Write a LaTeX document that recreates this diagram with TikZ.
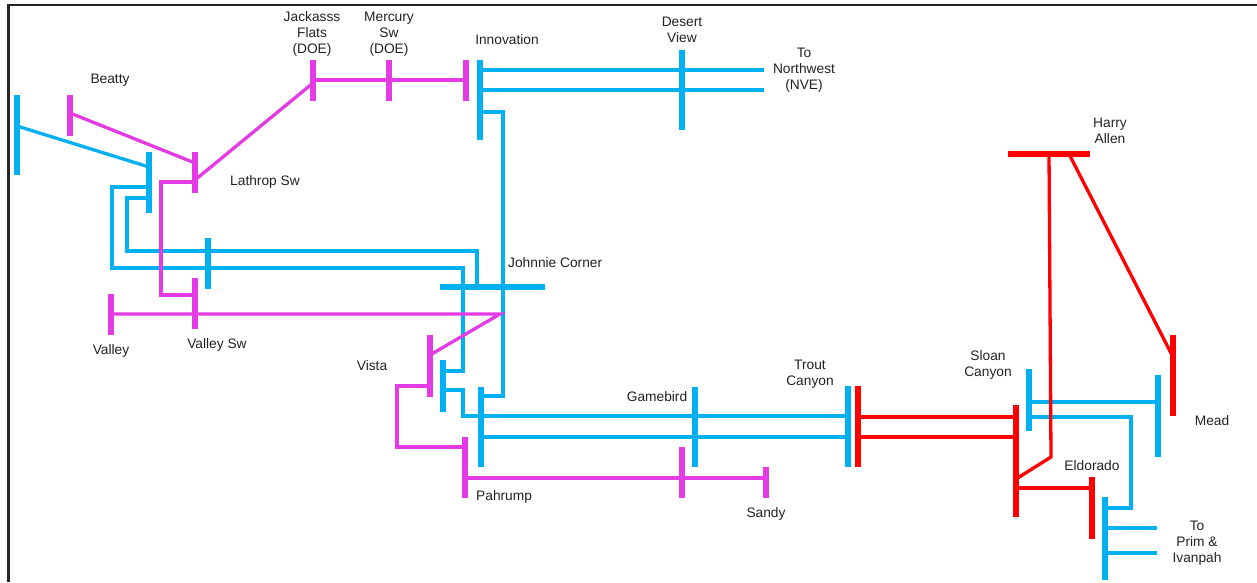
\documentclass[tikz,border=0pt]{standalone}
\usepackage{fontspec}
\setmainfont{Liberation Sans}
\pgfdeclarelayer{back}
\pgfdeclarelayer{bg}
\pgfsetlayers{back,bg,main}
\definecolor{colB}{HTML}{00B0F0}
\definecolor{colM}{HTML}{E53BE5}
\definecolor{colR}{HTML}{FF0000}
\definecolor{colT}{HTML}{222222}
\tikzset{
  bus/.style={rectangle, inner sep=0pt, outer sep=0pt, minimum width=6pt},
  hbus/.style={rectangle, inner sep=0pt, outer sep=0pt, minimum height=6pt},
  ln/.style={line width=3.3pt},
  lbl/.style={align=center, inner sep=0pt, text=colT},
}
\begin{document}
\begin{tikzpicture}[x=1pt, y=-1pt, font=\fontsize{13.75}{16}\selectfont]
\useasboundingbox (0,0) rectangle (1257,582);
\begin{pgfonlayer}{back}
\fill[white] (0,0) rectangle (1257,582);
\draw[line width=2.6pt, black!85] (1257,5) -- (8.5,5) -- (8.5,582);
\end{pgfonlayer}

% buses
\node[bus, fill=colB, minimum height=80pt] (leftB) at (17,135) {};
\node[bus, fill=colM, minimum height=41pt] (beattyM) at (70,115.5) {};
\node[bus, fill=colB, minimum height=61pt] (lathropB) at (149,182.5) {};
\node[bus, fill=colM, minimum height=41pt] (lathropM) at (195,172.5) {};
\node[bus, fill=colB, minimum height=51pt] (midB) at (208,263.5) {};
\node[bus, fill=colM, minimum height=41pt] (valleyM) at (111,314.5) {};
\node[bus, fill=colM, minimum height=51pt] (valleySwM) at (195,303.5) {};
\node[bus, fill=colM, minimum height=41pt] (jackM) at (313,80.5) {};
\node[bus, fill=colM, minimum height=41pt] (mercM) at (389,80.5) {};
\node[bus, fill=colM, minimum height=41pt] (innoM) at (466,80.5) {};
\node[bus, fill=colB, minimum height=80pt] (innoB) at (480,100) {};
\node[bus, fill=colB, minimum height=80pt] (desertB) at (682,90) {};
\node[bus, fill=colM, minimum height=62pt] (vistaM) at (430,366) {};
\node[bus, fill=colB, minimum height=52pt] (vistaB) at (443,386) {};
\node[bus, fill=colB, minimum height=80pt] (pahB) at (481,427) {};
\node[bus, fill=colM, minimum height=61pt] (pahM) at (465,467.5) {};
\node[bus, fill=colB, minimum height=80pt] (gameB) at (695,427) {};
\node[bus, fill=colM, minimum height=51pt] (gameM) at (682,472.5) {};
\node[bus, fill=colM, minimum height=31pt] (sandyM) at (766,482.5) {};
\node[bus, fill=colB, minimum height=81pt] (troutB) at (848,426.5) {};
\node[bus, fill=colR, minimum height=81pt] (troutR) at (858,426.5) {};
\node[bus, fill=colR, minimum height=112pt] (eldR) at (1016,461) {};
\node[bus, fill=colB, minimum height=62pt] (sloanB) at (1029,400) {};
\node[bus, fill=colB, minimum height=82pt] (meadB) at (1158,416) {};
\node[bus, fill=colR, minimum height=81pt] (meadR) at (1173,375.5) {};
\node[bus, fill=colR, minimum height=62pt] (eldRs) at (1092,508) {};
\node[bus, fill=colB, minimum height=83pt] (eldB) at (1105,538.5) {};
\node[hbus, fill=colB, minimum width=105pt] (jcB) at (492.5,287) {};
\node[hbus, fill=colR, minimum width=82pt] (haR) at (1049,154) {};

\begin{pgfonlayer}{bg}
% blue lines
\draw[ln, colB] (leftB |- 0,126) -- (lathropB |- 0,167);
\draw[ln, colB] (lathropB |- 0,187) -| (112,268) -| (463,371) -- (vistaB |- 0,371);
\draw[ln, colB] (lathropB |- 0,198) -| (127,251) -| (477,0 |- jcB.center);
\draw[ln, colB] (innoB |- 0,112) -| (503,396) -- (pahB |- 0,396);
\draw[ln, colB] (innoB |- 0,70) -- (764,70);
\draw[ln, colB] (innoB |- 0,90) -- (764,90);
\draw[ln, colB] (vistaB |- 0,390) -| (463,416) -- (troutB |- 0,416);
\draw[ln, colB] (pahB |- 0,437) -- (troutB |- 0,437);
\draw[ln, colB] (sloanB |- 0,402) -- (meadB |- 0,402);
\draw[ln, colB] (sloanB |- 0,417) -| (1131,508) -- (eldB |- 0,508);
\draw[ln, colB] (eldB |- 0,528) -- (1157,528);
\draw[ln, colB] (eldB |- 0,553) -- (1157,553);
% magenta lines
\draw[ln, colM] (beattyM |- 0,113) -- (lathropM |- 0,163);
\draw[ln, colM] (lathropM |- 0,180) -- (jackM |- 0,83);
\draw[ln, colM] (jackM |- 0,80) -- (innoM |- 0,80);
\draw[ln, colM] (lathropM |- 0,182) -| (161,295) -- (valleySwM |- 0,295);
\draw[ln, colM] (valleyM |- 0,314) -- (500,314) -- (vistaM |- 0,355);
\draw[ln, colM] (vistaM |- 0,386) -| (397,447) -- (pahM |- 0,447);
\draw[ln, colM] (pahM |- 0,478) -- (sandyM |- 0,478);
% red lines
\draw[ln, colR] (troutR |- 0,417) -- (eldR |- 0,417);
\draw[ln, colR] (troutR |- 0,437) -- (eldR |- 0,437);
\draw[ln, colR] (haR.center) -- (1051,457) -- (eldR |- 0,479);
\draw[ln, colR] ([xshift=20pt]haR.center) -- (meadR |- 0,357);
\draw[ln, colR] (eldR |- 0,488) -- (eldRs |- 0,488);
\end{pgfonlayer}

% labels
\node[lbl] (tBeatty) at (110,80) {Beatty};
\node[lbl] (tLathrop) at (265,182) {Lathrop Sw};
\node[lbl] (tJack) at (312,34) {Jackasss\\Flats\\(DOE)};
\node[lbl] (tMerc) at (389,34) {Mercury\\Sw\\(DOE)};
\node[lbl] (tInno) at (507,40) {Innovation};
\node[lbl] (tDesert) at (682,29.5) {Desert\\View};
\node[lbl] (tNW) at (804,70) {To\\Northwest\\(NVE)};
\node[lbl, anchor=west] (tJC) at (508,263) {Johnnie Corner};
\node[lbl] (tValley) at (111,351) {Valley};
\node[lbl] (tValleySw) at (217,345) {Valley Sw};
\node[lbl] (tVista) at (372,366) {Vista};
\node[lbl, anchor=west] (tPah) at (476,497) {Pahrump};
\node[lbl] (tGame) at (657,397) {Gamebird};
\node[lbl] (tTrout) at (810,374) {Trout\\Canyon};
\node[lbl] (tSandy) at (766,514) {Sandy};
\node[lbl] (tHA) at (1110,131) {Harry\\Allen};
\node[lbl] (tSloan) at (988,365) {Sloan\\Canyon};
\node[lbl] (tMead) at (1212,421) {Mead};
\node[lbl] (tEld) at (1092,466) {Eldorado};
\node[lbl] (tPrim) at (1197,543) {To\\Prim \&\\Ivanpah};
\end{tikzpicture}
\end{document}
